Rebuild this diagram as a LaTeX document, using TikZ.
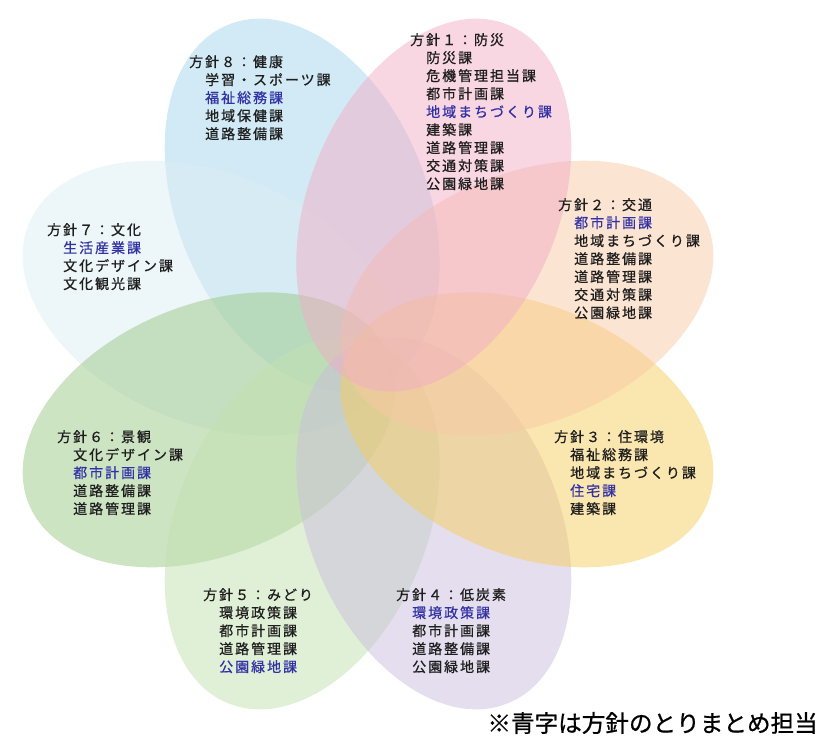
\documentclass[tikz,border=0pt]{standalone}
\usepackage{fontspec}
\newfontfamily\jp[LetterSpace=14,FakeBold=0.8]{Noto Sans CJK JP}
\newfontfamily\jpn[FakeBold=0.8]{Noto Sans CJK JP}
\definecolor{cP1}{RGB}{241,173,197}
\definecolor{cP2}{RGB}{249,201,165}
\definecolor{cP3}{RGB}{245,205,95}
\definecolor{cP4}{RGB}{203,189,221}
\definecolor{cP5}{RGB}{193,225,175}
\definecolor{cP6}{RGB}{155,201,135}
\definecolor{cP7}{RGB}{219,237,241}
\definecolor{cP8}{RGB}{165,213,235}
\definecolor{txtk}{RGB}{30,30,30}
\definecolor{txtb}{RGB}{50,50,165}
\newcommand\bl[1]{\textcolor{txtb}{#1}}
\newcommand\ind{\hspace*{16pt}}
\tikzset{
  petal/.style={fill opacity=0.5},
  blk/.style={anchor=north west, inner sep=0pt, align=left,
    font=\jp\fontsize{14}{18}\selectfont, text=txtk},
}
\begin{document}
\begin{tikzpicture}[x=1pt,y=-1pt]
\useasboundingbox (0,0) rectangle (822,740);
% petals
\fill[petal, cP8, shift={(302.2,205.1)}, rotate=112.5] (0,0) ellipse [x radius=195, y radius=125];
\fill[petal, cP7, shift={(209.1,298.2)}, rotate=157.5] (0,0) ellipse [x radius=195, y radius=125];
\fill[petal, cP6, shift={(209.1,429.8)}, rotate=-157.5] (0,0) ellipse [x radius=195, y radius=125];
\fill[petal, cP5, shift={(302.2,522.9)}, rotate=-112.5] (0,0) ellipse [x radius=195, y radius=125];
\fill[petal, cP4, shift={(433.8,522.9)}, rotate=-67.5] (0,0) ellipse [x radius=195, y radius=125];
\fill[petal, cP3, shift={(526.9,429.8)}, rotate=-22.5] (0,0) ellipse [x radius=195, y radius=125];
\fill[petal, cP2, shift={(526.9,298.2)}, rotate=22.5] (0,0) ellipse [x radius=195, y radius=125];
\fill[petal, cP1, shift={(433.8,205.1)}, rotate=67.5] (0,0) ellipse [x radius=195, y radius=125];
% texts
\node[blk] (t8) at (189,55) {方針８：健康\\\ind 学習・スポーツ課\\\ind\bl{福祉総務課}\\\ind 地域保健課\\\ind 道路整備課};
\node[blk] (t1) at (410,33) {方針１：防災\\\ind 防災課\\\ind 危機管理担当課\\\ind 都市計画課\\\ind\bl{地域まちづくり課}\\\ind 建築課\\\ind 道路管理課\\\ind 交通対策課\\\ind 公園緑地課};
\node[blk] (t2) at (558,198) {方針２：交通\\\ind\bl{都市計画課}\\\ind 地域まちづくり課\\\ind 道路整備課\\\ind 道路管理課\\\ind 交通対策課\\\ind 公園緑地課};
\node[blk] (t7) at (47,223) {方針７：文化\\\ind\bl{生活産業課}\\\ind 文化デザイン課\\\ind 文化観光課};
\node[blk] (t6) at (57,430) {方針６：景観\\\ind 文化デザイン課\\\ind\bl{都市計画課}\\\ind 道路整備課\\\ind 道路管理課};
\node[blk] (t3) at (554,430) {方針３：住環境\\\ind 福祉総務課\\\ind 地域まちづくり課\\\ind\bl{住宅課}\\\ind 建築課};
\node[blk] (t5) at (203,588) {方針５：みどり\\\ind 環境政策課\\\ind 都市計画課\\\ind 道路管理課\\\ind\bl{公園緑地課}};
\node[blk] (t4) at (396,588) {方針４：低炭素\\\ind\bl{環境政策課}\\\ind 都市計画課\\\ind 道路整備課\\\ind 公園緑地課};
\node[anchor=east, inner sep=0pt, font=\jpn\fontsize{23.6}{26}\selectfont, text=black] (note) at (818,723) {※青字は方針のとりまとめ担当};
\end{tikzpicture}
\end{document}
